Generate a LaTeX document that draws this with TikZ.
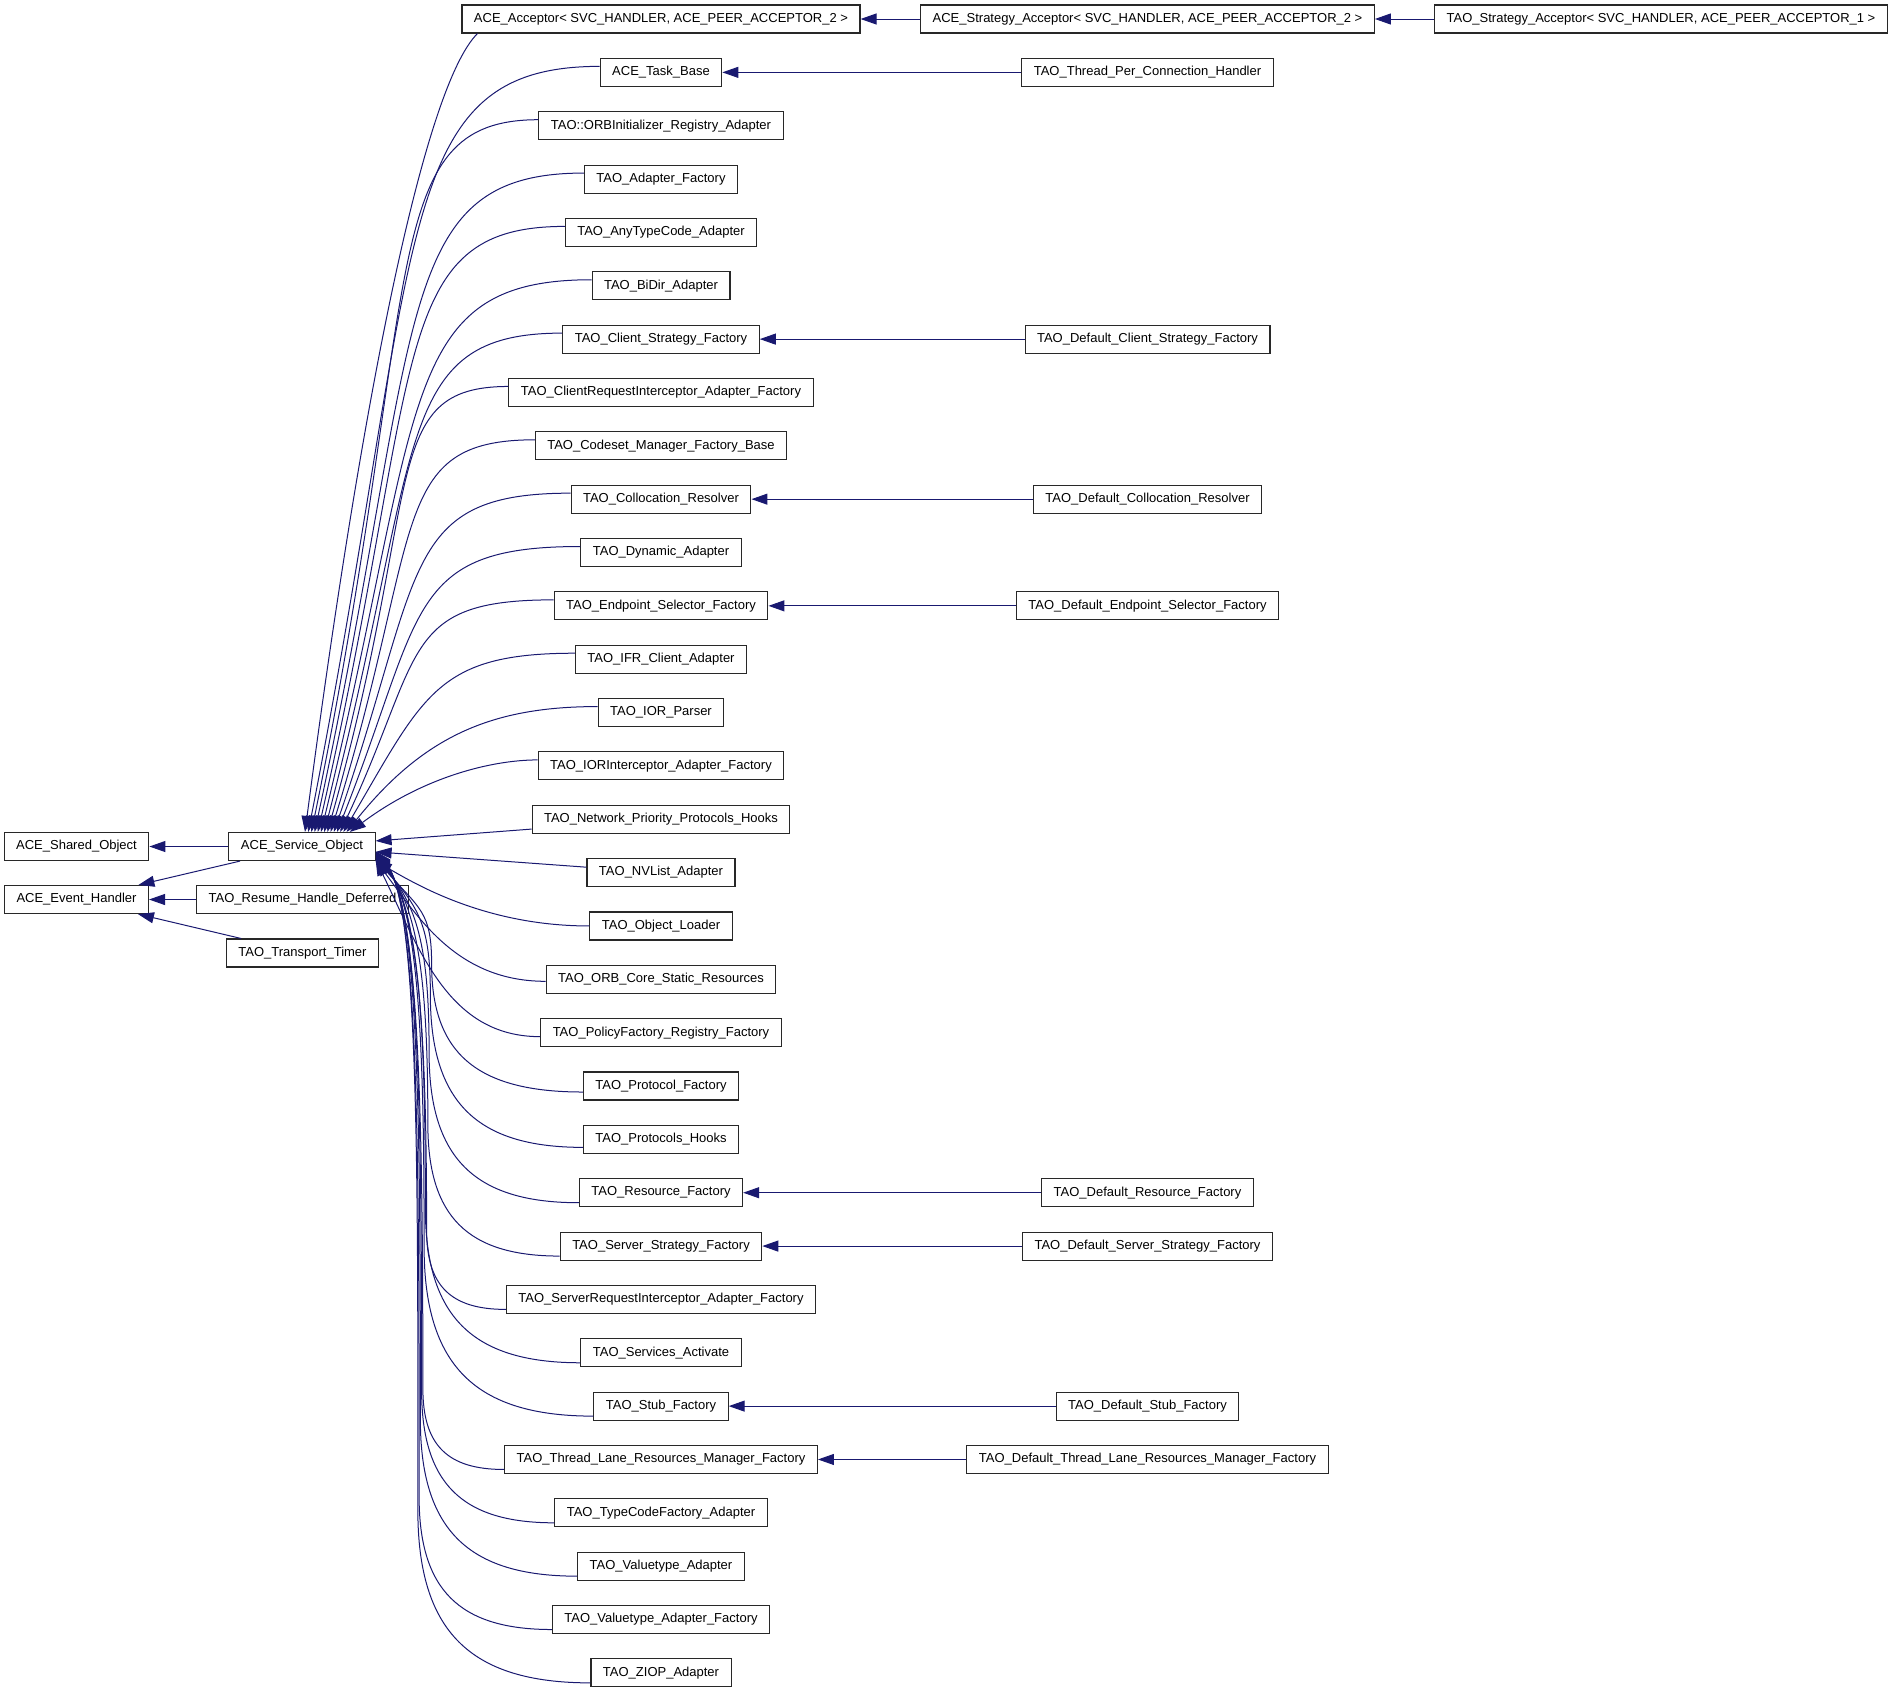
\documentclass[tikz,border=0pt]{standalone}
\usepackage{fontspec}
\newfontfamily\graphfont{Liberation Sans}
\usepackage{tikz}
\usetikzlibrary{
  arrows.meta,
  calc,
  positioning
}
\usepackage{xcolor}
\definecolor{edgeclr}{RGB}{25, 25, 112}
\definecolor{boxclr}{RGB}{40, 40, 40}
\tikzset{
  % Class boxes
  cls/.style = {draw=boxclr, line width=0.55pt, rectangle, inner xsep=6pt, inner ysep=0pt,
                minimum height=14pt, font=\graphfont\fontsize{6.5}{7.5}\selectfont},
  % Inheritance arrows (tip at the base class)
  inh/.style = {draw=edgeclr, line width=0.5pt, -{Triangle[length=8pt,width=5.5pt]}},
}

\begin{document}
\begin{tikzpicture}[x=0.5pt, y=-0.5pt]
  \useasboundingbox (0,0) rectangle (1899,1693);
  % Base classes
  \node[cls] (shared) at (76.5,846.5) {ACE\_Shared\_Object};
  \node[cls] (evh)    at (76.5,899.5) {ACE\_Event\_Handler};
  \node[cls] (svo)    at (302,846.5)  {ACE\_Service\_Object};
  \node[cls] (resume) at (302.5,899.5) {TAO\_Resume\_Handle\_Deferred};
  \node[cls] (timer)  at (302.5,953)  {TAO\_Transport\_Timer};
  \draw[inh] (svo) -- (shared);
  \draw[inh] (svo) -- (evh);
  \draw[inh] (resume) -- (evh);
  \draw[inh] (timer) -- (evh);
  % Direct subclasses of ACE_Service_Object
  \foreach \txt [count=\i from 0] in {
      {ACE\_Acceptor< SVC\_HANDLER, ACE\_PEER\_ACCEPTOR\_2 >},
      ACE\_Task\_Base,
      TAO::ORBInitializer\_Registry\_Adapter,
      TAO\_Adapter\_Factory,
      TAO\_AnyTypeCode\_Adapter,
      TAO\_BiDir\_Adapter,
      TAO\_Client\_Strategy\_Factory,
      TAO\_ClientRequestInterceptor\_Adapter\_Factory,
      TAO\_Codeset\_Manager\_Factory\_Base,
      TAO\_Collocation\_Resolver,
      TAO\_Dynamic\_Adapter,
      TAO\_Endpoint\_Selector\_Factory,
      TAO\_IFR\_Client\_Adapter,
      TAO\_IOR\_Parser,
      TAO\_IORInterceptor\_Adapter\_Factory,
      TAO\_Network\_Priority\_Protocols\_Hooks,
      TAO\_NVList\_Adapter,
      TAO\_Object\_Loader,
      TAO\_ORB\_Core\_Static\_Resources,
      TAO\_PolicyFactory\_Registry\_Factory,
      TAO\_Protocol\_Factory,
      TAO\_Protocols\_Hooks,
      TAO\_Resource\_Factory,
      TAO\_Server\_Strategy\_Factory,
      TAO\_ServerRequestInterceptor\_Adapter\_Factory,
      TAO\_Services\_Activate,
      TAO\_Stub\_Factory,
      TAO\_Thread\_Lane\_Resources\_Manager\_Factory,
      TAO\_TypeCodeFactory\_Adapter,
      TAO\_Valuetype\_Adapter,
      TAO\_Valuetype\_Adapter\_Factory,
      TAO\_ZIOP\_Adapter}
    \node[cls] (c\i) at (661,{19+53.35*\i}) {\txt};
  % Curved edges into the top of ACE_Service_Object
  \draw[inh] ($(c0.south west)+(16,0)$) .. controls +(-55,55) and +(55,-420) .. ($(svo.north)+(3,0)$);
  \foreach \i in {1,...,14}
    \draw[inh] let \p1 = ($(c\i.west)+(0,-6)$), \p2 = ($(svo.north)+({3+3.2*\i},0)$) in
      (\p1) .. controls +({-min(0.72,(\y1-\y2)/150)*(\x1-\x2)},0pt)
               and +({35+0.06*(\y1-\y2)},{0.77*(\y1-\y2)}) .. (\p2);
  % Straight edges into the right side
  \draw[inh] (c15) -- (svo);
  \draw[inh] (c16) -- (svo);
  % Short curves into the lower right corner
  \foreach \i in {17,18,19}
    \draw[inh] let \p1 = ($(c\i.west)+(0,{2*(\i-17)})$), \p2 = ($(svo.south east)+(0,{-0.7*(\i-17)})$) in
      (\p1) .. controls +({-(0.45*(\x1-\x2)+0.1*(\y2-\y1))},0pt)
               and +({20+0.025*(\y2-\y1)},{-(0.6*(\y2-\y1)-7.5)}) .. (\p2);
  % Long curves: turn up, climb, then bend into the corner
  \foreach \i in {20,...,31}
    \draw[inh] let \p1 = ($(c\i.west)+(0,{min(10,2*(\i-17))})$),
                   \p2 = ($(svo.south east)+(0,{-0.7*(\i-17)})$),
                   \p3 = ($(svo.south east)+({81-1.25*\i},0)$),
                   \n1 = {min(\x1-\x3,0.55*(\y2-\y1))} in
      (\p1) .. controls +({-0.7*(\x1-\x3)},0pt) and +(0pt,{-0.7*\n1*1pt})
            .. (\x3,{\y1+\n1*1pt})
            .. controls +(0pt,{0.5*(\y2-\y1-\n1*1pt)}) and +(22pt,-25pt) .. (\p2);
  % Second level subclasses
  \foreach \i/\txt in {
      0/{ACE\_Strategy\_Acceptor< SVC\_HANDLER, ACE\_PEER\_ACCEPTOR\_2 >},
      1/TAO\_Thread\_Per\_Connection\_Handler,
      6/TAO\_Default\_Client\_Strategy\_Factory,
      9/TAO\_Default\_Collocation\_Resolver,
      11/TAO\_Default\_Endpoint\_Selector\_Factory,
      22/TAO\_Default\_Resource\_Factory,
      23/TAO\_Default\_Server\_Strategy\_Factory,
      26/TAO\_Default\_Stub\_Factory,
      27/TAO\_Default\_Thread\_Lane\_Resources\_Manager\_Factory}
  {
    \node[cls] (d\i) at (1147.5,{19+53.35*\i}) {\txt};
    \draw[inh] (d\i) -- (c\i);
  }
  % Third level
  \node[cls] (tsacc) at (1661,19) {TAO\_Strategy\_Acceptor< SVC\_HANDLER, ACE\_PEER\_ACCEPTOR\_1 >};
  \draw[inh] (tsacc) -- (d0);
\end{tikzpicture}
\end{document}
